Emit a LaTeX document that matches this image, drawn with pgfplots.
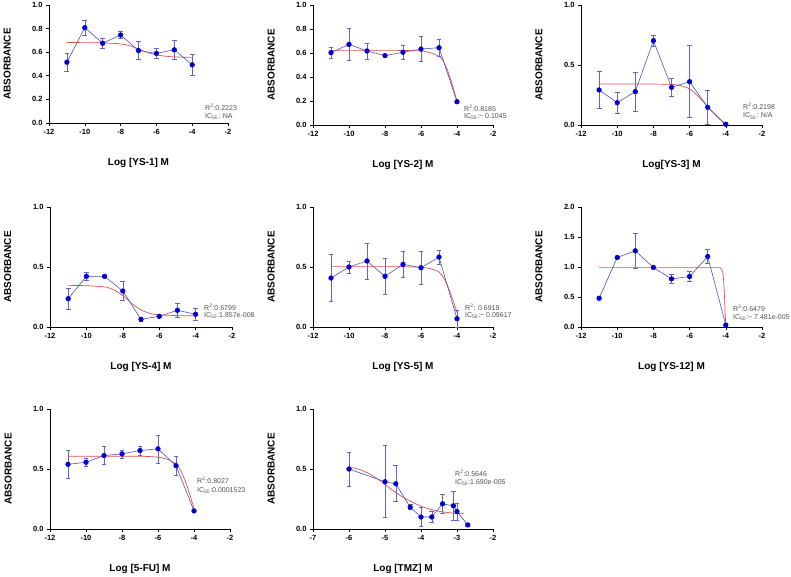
\documentclass[border=0pt]{standalone}
\usepackage{fontspec}
\setmainfont{Liberation Sans}
\usepackage{pgfplots}
\pgfplotsset{compat=1.18}

\definecolor{dotc}{RGB}{0,0,210}
\definecolor{linec}{RGB}{80,80,190}
\definecolor{errc}{RGB}{100,100,205}
\definecolor{fitc}{RGB}{225,80,80}
\definecolor{annc}{RGB}{80,80,80}

\pgfplotsset{
  gp/.style={
    scale only axis,
    axis lines=left,
    axis line style={-, line width=0.6pt},
    tick align=outside,
    major tick length=3pt,
    tick style={line width=0.6pt, black},
    xmin=-12, xmax=-2, xtick={-12,-10,...,-2},
    ymin=0, ymax=1, ytick={0,0.5,1},
    clip=false,
    /pgf/number format/assume math mode=true,
    ticklabel style={font=\bfseries\fontsize{7.5}{8}\selectfont},
    y tick label style={/pgf/number format/.cd, fixed, fixed zerofill, precision=1, /tikz/.cd},
    label style={font=\bfseries\fontsize{10}{12}\selectfont},
    xlabel style={at={(axis description cs:0.5,-0.335)}, anchor=center},
    ylabel style={at={(axis description cs:-0.233,0.5)}, anchor=center},
    ylabel={ABSORBANCE},
  },
  dat/.style={
    draw=linec, line width=0.6pt,
    mark=*, mark size=2.3pt, mark options={fill=dotc, draw=dotc},
    error bars/.cd, y dir=both, y explicit,
    error bar style={draw=errc, line width=0.6pt},
    error mark options={rotate=90, draw=errc, mark size=2.4pt, line width=0.6pt},
  },
  fit/.style={fitc, line width=0.7pt, no markers, smooth},
}

\newcommand{\ann}[3]{%
  \node[anchor=west, inner sep=0pt, text=annc, font=\fontsize{7}{8}\selectfont] at (#1pt,#2pt) {R\textsuperscript{2}:#3};%
}
\newcommand{\annic}[3]{%
  \node[anchor=west, inner sep=0pt, text=annc, font=\fontsize{7}{8}\selectfont] at (#1pt,#2pt) {IC\textsubscript{50}:#3};%
}

\begin{document}
\begin{tikzpicture}
\useasboundingbox (0,0) rectangle (791pt,576pt);

% YS-1
\begin{axis}[gp, at={(49pt,453pt)}, anchor=south west, width=179pt, height=118pt,
  ytick={0,0.2,...,1.0}, xlabel={Log [YS-1] M}]
\addplot[fit] coordinates {(-11,0.682) (-10,0.681) (-9,0.679) (-8,0.670) (-7.5,0.655) (-7,0.627) (-6.5,0.597) (-6,0.577) (-5.5,0.566) (-5,0.560) (-4,0.556)};
\addplot[dat] coordinates {
  (-11,0.515) +- (0,0.075)
  (-10,0.808) +- (0,0.063)
  (-9,0.676) +- (0,0.040)
  (-8,0.746) +- (0,0.028)
  (-7,0.614) +- (0,0.078)
  (-6,0.590) +- (0,0.043)
  (-5,0.620) +- (0,0.080)
  (-4,0.493) +- (0,0.085)
};
\end{axis}

% YS-2
\begin{axis}[gp, at={(313pt,451pt)}, anchor=south west, width=180pt, height=120pt,
  ytick={0,0.2,...,1.0}, xlabel={Log [YS-2] M}]
\addplot[fit] coordinates {(-11,0.622) (-8,0.622) (-7,0.621) (-6,0.616) (-5.5,0.603) (-5,0.572) (-4.75,0.53) (-4.5,0.445) (-4.25,0.33) (-4,0.20)};
\addplot[dat] coordinates {
  (-11,0.603) +- (0,0.045)
  (-10,0.672) +- (0,0.130)
  (-9,0.617) +- (0,0.067)
  (-8,0.578) +- (0,0.008)
  (-7,0.606) +- (0,0.058)
  (-6,0.633) +- (0,0.104)
  (-5,0.644) +- (0,0.071)
  (-4,0.194) +- (0,0.010)
};
\end{axis}

% YS-3
\begin{axis}[gp, at={(581pt,451pt)}, anchor=south west, width=181pt, height=120pt,
  xlabel={Log[YS-3] M}]
\addplot[fit] coordinates {(-11,0.342) (-8,0.341) (-7,0.338) (-6.5,0.328) (-6,0.300) (-5.5,0.235) (-5,0.155) (-4.5,0.072) (-4,0.0)};
\addplot[dat] coordinates {
  (-11,0.292) +- (0,0.155)
  (-10,0.186) +- (0,0.087)
  (-9,0.278) +- (0,0.160)
  (-8,0.703) +- (0,0.045)
  (-7,0.314) +- (0,0.077)
  (-6,0.361) +- (0,0.300)
  (-5,0.147) +- (0,0.140)
  (-4,0.006) +- (0,0.005)
};
\end{axis}

% YS-4
\begin{axis}[gp, at={(50pt,249pt)}, anchor=south west, width=182pt, height=120pt,
  xlabel={Log [YS-4] M}]
\addplot[fit] coordinates {(-11,0.347) (-10,0.344) (-9,0.334) (-8.5,0.310) (-8,0.262) (-7.5,0.195) (-7,0.142) (-6.5,0.113) (-6,0.101) (-5,0.095) (-4,0.094)};
\addplot[dat] coordinates {
  (-11,0.236) +- (0,0.090)
  (-10,0.422) +- (0,0.032)
  (-9,0.422) +- (0,0.010)
  (-8,0.300) +- (0,0.077)
  (-7,0.064) +- (0,0.015)
  (-6,0.089) +- (0,0.008)
  (-5,0.139) +- (0,0.055)
  (-4,0.106) +- (0,0.050)
};
\end{axis}

% YS-5
\begin{axis}[gp, at={(313pt,249pt)}, anchor=south west, width=180pt, height=120pt,
  xlabel={Log [YS-5] M}]
\addplot[fit] coordinates {(-11,0.503) (-8,0.503) (-7,0.502) (-6,0.497) (-5.5,0.487) (-5,0.458) (-4.75,0.41) (-4.5,0.335) (-4.25,0.232) (-4,0.12)};
\addplot[dat] coordinates {
  (-11,0.408) +- (0,0.195)
  (-10,0.500) +- (0,0.050)
  (-9,0.550) +- (0,0.150)
  (-8,0.422) +- (0,0.148)
  (-7,0.522) +- (0,0.107)
  (-6,0.494) +- (0,0.137)
  (-5,0.583) +- (0,0.060)
  (-4,0.069) +- (0,0.070)
};
\end{axis}

% YS-12
\begin{axis}[gp, at={(581pt,249pt)}, anchor=south west, width=181pt, height=120pt,
  ymax=2, ytick={0,0.5,...,2.0}, xlabel={Log [YS-12] M}]
\addplot[fitc, line width=0.7pt, no markers] coordinates {(-11,0.99) (-4.45,0.99) (-4.3,0.985) (-4.22,0.96) (-4.16,0.90) (-4.11,0.74) (-4.07,0.50) (-4.04,0.25) (-4.0,0.03)};
\addplot[dat] coordinates {
  (-11,0.479) +- (0,0.0)
  (-10,1.159) +- (0,0.015)
  (-9,1.270) +- (0,0.290)
  (-8,0.992) +- (0,0.010)
  (-7,0.802) +- (0,0.075)
  (-6,0.841) +- (0,0.080)
  (-5,1.175) +- (0,0.117)
  (-4,0.033) +- (0,0.0)
};
\end{axis}

% 5-FU
\begin{axis}[gp, at={(50pt,47pt)}, anchor=south west, width=180pt, height=120pt,
  xlabel={Log [5-FU] M}]
\addplot[fit] coordinates {(-11,0.607) (-8,0.607) (-7,0.606) (-6.5,0.604) (-6,0.598) (-5.5,0.582) (-5,0.540) (-4.75,0.49) (-4.5,0.405) (-4.25,0.295) (-4,0.17)};
\addplot[dat] coordinates {
  (-11,0.539) +- (0,0.120)
  (-10,0.556) +- (0,0.033)
  (-9,0.612) +- (0,0.075)
  (-8,0.626) +- (0,0.033)
  (-7,0.654) +- (0,0.036)
  (-6,0.668) +- (0,0.117)
  (-5,0.528) +- (0,0.077)
  (-4,0.151) +- (0,0.015)
};
\end{axis}

% TMZ
\begin{axis}[gp, at={(313pt,47pt)}, anchor=south west, width=180pt, height=120pt,
  xmin=-7, xmax=-2, xtick={-7,-6,...,-2}, xlabel={Log [TMZ] M}]
\addplot[fit] coordinates {(-6,0.514) (-5.75,0.500) (-5.5,0.470) (-5.25,0.425) (-5,0.370) (-4.75,0.315) (-4.5,0.265) (-4.25,0.225) (-4,0.190) (-3.75,0.165) (-3.5,0.148) (-3.25,0.137) (-3,0.130) (-2.8,0.126)};
\addplot[dat] coordinates {
  (-6,0.500) +- (0,0.140)
  (-5,0.394) +- (0,0.300)
  (-4.7,0.377) +- (0,0.150)
  (-4.3,0.182) +- (0,0.020)
  (-4,0.100) +- (0,0.077)
  (-3.7,0.100) +- (0,0.045)
  (-3.4,0.210) +- (0,0.080)
  (-3.1,0.193) +- (0,0.120)
  (-3.0,0.145) +- (0,0.070)
  (-2.7,0.034) +- (0,0.015)
};
\end{axis}

\ann{205}{469}{0.2223}
\annic{205}{459}{ NA}
\ann{464}{468}{0.8185}
\annic{464}{459}{\textasciitilde\ 0.1045}
\ann{743}{470}{0.2198}
\annic{743}{460}{ N/A}
\ann{204}{269}{0.6799}
\annic{204}{260}{1.857e-008}
\ann{465}{269}{ 0.6919}
\annic{465}{260}{\textasciitilde\ 0.09617}
\ann{733}{268}{0.6479}
\annic{733}{258}{\textasciitilde\ 7.481e-005}
\ann{197}{96}{0.8027}
\annic{197}{85}{0.0001523}
\ann{455}{103}{0.5646}
\annic{455}{93}{1.690e-005}
\end{tikzpicture}
\end{document}
